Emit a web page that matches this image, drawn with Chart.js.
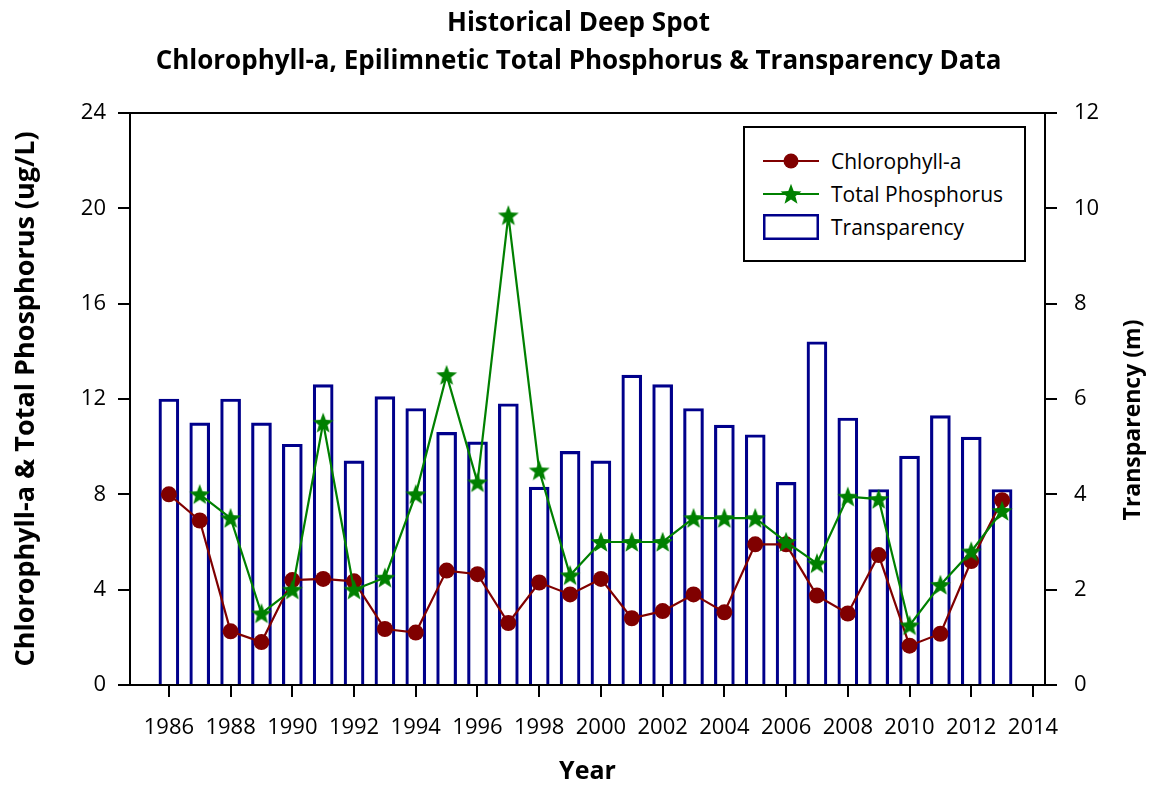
<!DOCTYPE html>
<html>
<head>
<meta charset="utf-8">
<script src="https://cdn.jsdelivr.net/npm/chart.js@4.4.1/dist/chart.umd.min.js"></script>
<style>
  body { margin: 0; background: #fff; }
  #wrap { position: relative; width: 1157px; height: 790px; }
  #legend {
    position: absolute; left: 743px; top: 126px; width: 283px; height: 136px;
    border: 2px solid #000; box-sizing: border-box; background: #fff;
    font-family: "Open Sans", sans-serif; font-size: 21px; color: #000;
  }
  .row { position: absolute; left: 18px; height: 26px; display: flex; align-items: center; }
  .row svg { width: 56px; height: 26px; margin-right: 12px; }
</style>
</head>
<body>
<div id="wrap">
  <canvas id="chart"></canvas>
  <div id="legend"></div>
</div>
<script>
// Datos
var years = [1986, 1987, 1988, 1989, 1990, 1991, 1992, 1993, 1994, 1995, 1996, 1997, 1998, 1999,
             2000, 2001, 2002, 2003, 2004, 2005, 2006, 2007, 2008, 2009, 2010, 2011, 2012, 2013];
var chlorophyll = [8.0, 6.9, 2.25, 1.8, 4.4, 4.45, 4.35, 2.35, 2.2, 4.8, 4.65, 2.6, 4.3, 3.8,
                   4.45, 2.8, 3.1, 3.8, 3.05, 5.9, 5.9, 3.75, 3.0, 5.45, 1.65, 2.15, 5.2, 7.75];
var phosphorus = [null, 8.0, 7.0, 3.0, 4.0, 11.0, 4.0, 4.5, 8.0, 13.0, 8.5, 19.7, 9.0, 4.6,
                  6.0, 6.0, 6.0, 7.0, 7.0, 7.0, 6.0, 5.1, 7.9, 7.8, 2.5, 4.2, 5.6, 7.3];
var transparency = [6.0, 5.5, 6.0, 5.5, 5.05, 6.3, 4.7, 6.05, 5.8, 5.3, 5.1, 5.9, 4.15, 4.9,
                    4.7, 6.5, 6.3, 5.8, 5.45, 5.25, 4.25, 7.2, 5.6, 4.1, 4.8, 5.65, 5.2, 4.1];
var yearTicks = [1986, 1988, 1990, 1992, 1994, 1996, 1998, 2000, 2002, 2004, 2006, 2008, 2010, 2012, 2014];
var leftTicks = [0, 4, 8, 12, 16, 20, 24];
var rightTicks = [0, 2, 4, 6, 8, 10, 12];
var legendLabels = ['Chlorophyll-a', 'Total Phosphorus', 'Transparency'];

var RED = '#800000', GREEN = '#008000', NAVY = '#00008B';
var FONT = '"Open Sans", sans-serif';

function pairs(vals) {
    return years.map(function(y, i) { return { x: y, y: vals[i] }; });
}

// estrella rellena para los puntos de fosforo
function starPath(ctx, cx, cy, ro, ri) {
    ctx.beginPath();
    for (var k = 0; k < 10; k++) {
        var r = k % 2 ? ri : ro;
        var a = -Math.PI / 2 + k * Math.PI / 5;
        ctx.lineTo(cx + r * Math.cos(a), cy + r * Math.sin(a));
    }
    ctx.closePath();
}
var star = document.createElement('canvas');
star.width = 24; star.height = 24;
var sctx = star.getContext('2d');
sctx.fillStyle = GREEN;
starPath(sctx, 12, 12.8, 11, 4.6);
sctx.fill();

var framePlugin = {
    id: 'frame',
    afterDraw: function(chart) {
        var a = chart.chartArea, ctx = chart.ctx;
        ctx.save();
        ctx.strokeStyle = '#000';
        ctx.lineWidth = 2;
        ctx.beginPath();
        ctx.moveTo(a.left - 1, a.top);
        ctx.lineTo(a.right + 1, a.top);
        ctx.stroke();
        // titulo del eje derecho, leido de abajo hacia arriba
        ctx.translate(1133, 420);
        ctx.rotate(-Math.PI / 2);
        ctx.fillStyle = '#000';
        ctx.font = 'bold 23px ' + FONT;
        ctx.textAlign = 'center';
        ctx.textBaseline = 'middle';
        ctx.fillText('Transparency (m)', 0, 0);
        ctx.restore();
    }
};

var axisStyle = function() {
    return {
        border: { display: true, color: '#000', width: 2 },
        grid: { offset: false, drawOnChartArea: false, drawTicks: true, tickLength: 12, color: '#000', lineWidth: 2 }
    };
};

var xAxis = axisStyle();
Object.assign(xAxis, {
    type: 'linear', min: 1984.74, max: 2014.39, offset: false,
    afterBuildTicks: function(s) { s.ticks = yearTicks.map(function(v) { return { value: v }; }); },
    afterFit: function(s) { s.height = 105; },
    ticks: { color: '#000', padding: 18, maxRotation: 0, autoSkip: false,
             font: { family: FONT, size: 22 }, callback: function(v) { return String(v); } },
    title: { display: true, text: 'Year', color: '#000', padding: { top: 0, bottom: 3 },
             font: { family: FONT, size: 25, weight: 'bold' } }
});

var yAxis = axisStyle();
Object.assign(yAxis, {
    position: 'left', min: 0, max: 24,
    afterBuildTicks: function(s) { s.ticks = leftTicks.map(function(v) { return { value: v }; }); },
    afterFit: function(s) { s.width = 130; },
    ticks: { color: '#000', padding: 12, font: { family: FONT, size: 22 } },
    title: { display: true, text: 'Chlorophyll-a & Total Phosphorus (ug/L)', color: '#000',
             padding: { top: 10, bottom: 0 }, font: { family: FONT, size: 27, weight: 'bold' } }
});

var y1Axis = axisStyle();
Object.assign(y1Axis, {
    position: 'right', min: 0, max: 12,
    afterBuildTicks: function(s) { s.ticks = rightTicks.map(function(v) { return { value: v }; }); },
    afterFit: function(s) { s.width = 112; },
    ticks: { color: '#000', padding: 17, font: { family: FONT, size: 22 } }
});

var ctx = document.getElementById('chart').getContext('2d');
var chart = new Chart(ctx, {
    type: 'bar',
    data: {
        datasets: [{
            type: 'line',
            label: legendLabels[0],
            data: pairs(chlorophyll),
            yAxisID: 'y',
            borderColor: RED, backgroundColor: RED, borderWidth: 2.2,
            pointStyle: 'circle', pointRadius: 8, pointBorderWidth: 0,
            order: 2
        }, {
            type: 'line',
            label: legendLabels[1],
            data: pairs(phosphorus),
            yAxisID: 'y',
            borderColor: GREEN, backgroundColor: GREEN, borderWidth: 2.2,
            pointStyle: star, pointRadius: 11,
            spanGaps: false,
            order: 1
        }, {
            type: 'bar',
            label: legendLabels[2],
            data: pairs(transparency),
            yAxisID: 'y1',
            borderColor: NAVY, backgroundColor: 'rgba(255,255,255,0)', borderWidth: 2.5,
            barThickness: 20,
            order: 3
        }]
    },
    options: {
        responsive: true,
        maintainAspectRatio: false,
        animation: false,
        layout: { padding: 0 },
        scales: { x: xAxis, y: yAxis, y1: y1Axis },
        plugins: {
            legend: { display: false },
            tooltip: { enabled: false },
            title: {
                display: true,
                text: ['Historical Deep Spot', 'Chlorophyll-a, Epilimnetic Total Phosphorus & Transparency Data'],
                color: '#000',
                font: { family: FONT, size: 26, weight: 'bold', lineHeight: 1.46 },
                padding: { top: 5, bottom: 32 }
            }
        }
    },
    plugins: [framePlugin]
});

// leyenda en HTML
var symbols = [
    '<svg viewBox="0 0 56 26"><line x1="0" y1="13" x2="56" y2="13" stroke="' + RED + '" stroke-width="2"/>' +
        '<circle cx="28" cy="13" r="7.5" fill="' + RED + '"/></svg>',
    '<svg viewBox="0 0 56 26"><line x1="0" y1="13" x2="56" y2="13" stroke="' + GREEN + '" stroke-width="2"/>' +
        '<polygon points="' + (function() {
            var p = [];
            for (var k = 0; k < 10; k++) {
                var r = k % 2 ? 4.6 : 11, a = -Math.PI / 2 + k * Math.PI / 5;
                p.push((28 + r * Math.cos(a)).toFixed(2) + ',' + (13.8 + r * Math.sin(a)).toFixed(2));
            }
            return p.join(' ');
        })() + '" fill="' + GREEN + '"/></svg>',
    '<svg viewBox="0 0 56 26"><rect x="1.25" y="1.25" width="53.5" height="23.5" fill="none" stroke="' + NAVY + '" stroke-width="2.5"/></svg>'
];
var rowTops = [20, 53, 86];
var legendEl = document.getElementById('legend');
legendLabels.forEach(function(lbl, i) {
    var row = document.createElement('div');
    row.className = 'row';
    row.style.top = rowTops[i] + 'px';
    row.innerHTML = symbols[i] + '<span>' + lbl + '</span>';
    legendEl.appendChild(row);
});
</script>
</body>
</html>
